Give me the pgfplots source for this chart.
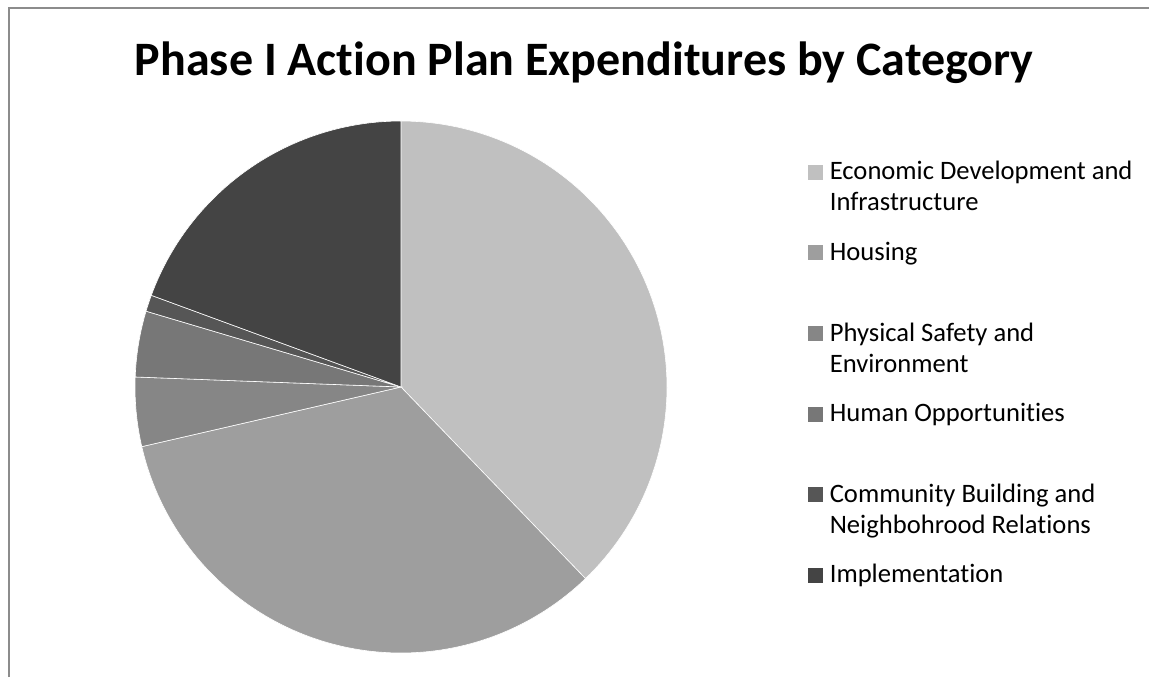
\documentclass[border=0pt]{standalone}
\usepackage{fontspec}
\setmainfont{Carlito}[Ligatures=NoCommon]
\usepackage{pgfplots}
\pgfplotsset{compat=1.18}
\definecolor{c1}{HTML}{C0C0C0}
\definecolor{c2}{HTML}{9E9E9E}
\definecolor{c3}{HTML}{868686}
\definecolor{c4}{HTML}{777777}
\definecolor{c5}{HTML}{565656}
\definecolor{c6}{HTML}{444444}
\definecolor{frame}{HTML}{8C8C8C}
\newcommand{\lent}[1]{\parbox[t][40.3bp][t]{175bp}{\raggedright\strut #1}}
% shares of the pie, in percent
\def\pA{37.8}\def\pB{33.6}\def\pC{4.2}\def\pD{4.0}\def\pE{1.0}\def\pF{19.4}
\begin{document}
\begin{tikzpicture}[x=0.5bp,y=-0.5bp]
\path[use as bounding box] (0,0) rectangle (1149,677);
\draw[color=frame, line width=1bp] (8.5,677) -- (8.5,8.5) -- (1149,8.5);
\node[anchor=base, inner sep=0pt, font=\fontsize{24bp}{28bp}\selectfont\bfseries] at (584,76) {Phase I Action Plan Expenditures by Category};
\coordinate (pc) at (401,387);
\pgfmathsetmacro{\aA}{90-3.6*\pA}
\pgfmathsetmacro{\aB}{\aA-3.6*\pB}
\pgfmathsetmacro{\aC}{\aB-3.6*\pC}
\pgfmathsetmacro{\aD}{\aC-3.6*\pD}
\pgfmathsetmacro{\aE}{\aD-3.6*\pE}
\pgfmathsetmacro{\aF}{\aE-3.6*\pF}
\begin{axis}[at={(pc)}, anchor=center, x=133bp, y=133bp,
  xmin=-1, xmax=1, ymin=-1, ymax=1, hide axis, clip=false,
  legend style={at={(1.265,0.931)}, anchor=north west, draw=none, fill=none,
    inner sep=0pt, row sep=0pt, column sep=3.2bp,
    font=\fontsize{13.3bp}{15.5bp}\selectfont,
    nodes={inner sep=0pt, text depth={}},
    cells={anchor=base west}},
  legend image code/.code={\fill[#1,draw=none] (0bp,0bp) rectangle (7.5bp,7.5bp);},
  every axis plot/.append style={draw=white, line width=0.3bp, samples=90, variable=\t}]
\addplot[fill=c1, domain=\aA:90] ({cos(\t)},{sin(\t)}) -- (0,0) -- cycle;
\addlegendentry{\lent{Economic Development and\\Infrastructure}}
\addplot[fill=c2, domain=\aB:\aA] ({cos(\t)},{sin(\t)}) -- (0,0) -- cycle;
\addlegendentry{\lent{Housing}}
\addplot[fill=c3, domain=\aC:\aB, samples=20] ({cos(\t)},{sin(\t)}) -- (0,0) -- cycle;
\addlegendentry{\lent{Physical Safety and\\Environment}}
\addplot[fill=c4, domain=\aD:\aC, samples=20] ({cos(\t)},{sin(\t)}) -- (0,0) -- cycle;
\addlegendentry{\lent{Human Opportunities}}
\addplot[fill=c5, domain=\aE:\aD, samples=6] ({cos(\t)},{sin(\t)}) -- (0,0) -- cycle;
\addlegendentry{\lent{Community Building and\\Neighbohrood Relations}}
\addplot[fill=c6, domain=\aF:\aE, samples=60] ({cos(\t)},{sin(\t)}) -- (0,0) -- cycle;
\addlegendentry{\lent{Implementation}}
\end{axis}
\end{tikzpicture}
\end{document}
